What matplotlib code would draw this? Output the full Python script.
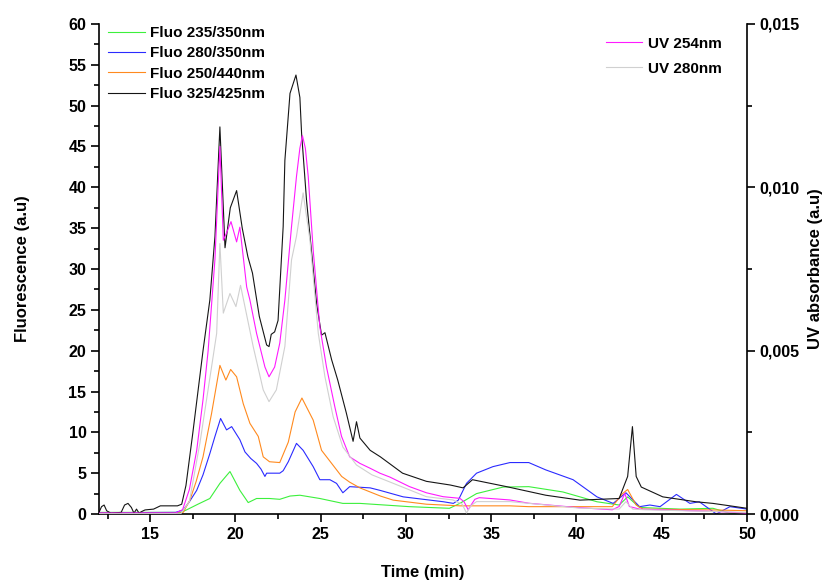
# coding: utf-8
# fluorescence + UV chromatogram, two y axes

import matplotlib
matplotlib.use("Agg")
import matplotlib.pyplot as plt
from matplotlib.ticker import MultipleLocator, FuncFormatter

plt.rcParams['font.family'] = ['Liberation Sans', 'DejaVu Sans']
plt.rcParams['font.weight'] = 'bold'

# Fluo 235/350nm
t_green = [12.0, 16.8, 17.13, 17.8, 18.5, 19.09, 19.68, 20.26, 20.75, 21.24, 22.0, 22.6, 23.2,
           23.78, 24.95, 26.3, 27.3, 30.2, 32.55, 33.16, 34.14, 35.7, 37.2, 39.2, 41.2, 42.5,
           43.0, 43.7, 46.1, 48.0, 49.0, 50.0]
f_green = [0.2, 0.2, 0.5, 1.2, 1.9, 3.75, 5.2, 2.9, 1.4, 1.9, 1.9, 1.8, 2.2,
           2.3, 1.9, 1.3, 1.3, 0.9, 0.7, 1.3, 2.5, 3.3, 3.35, 2.7, 1.5, 1.1,
           2.1, 0.8, 0.6, 0.7, 0.1, 0.1]

# Fluo 280/350nm
t_blue = [12.0, 16.5, 16.94, 17.3, 17.73, 18.1, 18.5, 18.8, 19.13, 19.48, 19.78, 20.26, 20.56,
          20.9, 21.24, 21.5, 21.73, 21.83, 22.2, 22.6, 22.8, 23.1, 23.58, 23.97, 24.56, 24.95,
          25.54, 25.93, 26.3, 26.7, 27.9, 28.47, 29.84, 32.2, 32.78, 33.07, 33.55, 34.14, 35.1,
          36.1, 37.2, 38.2, 39.8, 41.2, 42.15, 42.9, 43.7, 44.3, 44.9, 45.86, 46.65, 47.2,
          48.2, 49.0, 50.0]
f_blue = [0.15, 0.2, 0.5, 1.5, 2.9, 4.8, 7.4, 9.5, 11.7, 10.3, 10.7, 9.1, 7.6,
          6.8, 6.2, 5.5, 4.6, 5.0, 5.0, 5.0, 5.3, 6.4, 8.65, 7.8, 5.8, 4.2,
          4.2, 3.75, 2.6, 3.35, 3.2, 2.9, 2.1, 1.5, 1.3, 1.7, 3.75, 5.0, 5.8,
          6.3, 6.3, 5.4, 4.2, 2.1, 1.3, 2.6, 0.9, 1.1, 0.9, 2.4, 1.3, 1.5,
          0.0, 0.9, 0.6]

# Fluo 250/440nm
t_orange = [12.0, 16.7, 16.94, 17.33, 17.7, 18.1, 18.6, 19.09, 19.44, 19.72, 20.07, 20.46, 20.85,
            21.34, 21.63, 22.0, 22.6, 23.1, 23.5, 23.9, 24.56, 25.05, 25.64, 26.23, 26.7, 27.3,
            28.5, 29.25, 31.2, 33.16, 36.1, 37.2, 42.1, 42.7, 43.0, 43.5, 43.9, 48.0, 50.0]
f_orange = [0.1, 0.1, 0.2, 1.7, 4.0, 7.0, 12.3, 18.2, 16.4, 17.7, 16.8, 13.5, 11.1,
            9.5, 7.0, 6.4, 6.3, 8.8, 12.5, 14.2, 11.5, 7.8, 6.2, 4.6, 3.9, 3.2,
            2.2, 1.7, 1.2, 1.0, 1.0, 0.9, 0.9, 2.5, 3.0, 1.1, 0.6, 0.5, 0.4]

# Fluo 325/425nm
t_black = [12.0, 12.15, 12.3, 12.45, 12.7, 13.3, 13.5, 13.7, 13.9, 14.05, 14.2, 14.35, 14.5,
           14.7, 15.2, 15.6, 16.6, 16.85, 17.1, 17.5, 18.1, 18.5, 18.8, 19.09, 19.39, 19.7,
           20.07, 20.4, 20.73, 21.0, 21.4, 21.83, 21.97, 22.1, 22.3, 22.5, 22.8, 22.9, 23.2,
           23.55, 23.78, 23.88, 24.17, 24.47, 24.76, 25.05, 25.25, 25.64, 26.0, 26.5, 26.9, 27.1,
           27.3, 27.9, 28.5, 29.8, 31.2, 32.6, 33.35, 33.9, 35.9, 38.2, 40.2, 42.5, 43.0,
           43.28, 43.5, 43.8, 45.06, 47.0, 48.0, 50.0]
f_black = [0.2, 0.9, 1.1, 0.4, 0.1, 0.2, 1.1, 1.3, 0.8, 0.1, 0.6, 0.1, 0.3,
           0.5, 0.6, 1.0, 1.0, 1.2, 3.5, 9.9, 20.0, 26.2, 34.0, 47.4, 32.6, 37.5,
           39.6, 35.0, 31.5, 29.5, 24.2, 20.7, 20.5, 22.0, 22.3, 23.7, 35.2, 43.3, 51.5,
           53.75, 51.0, 46.6, 38.4, 32.0, 25.8, 21.9, 22.2, 18.9, 16.4, 12.4, 8.9, 11.3,
           9.3, 7.8, 7.0, 5.0, 4.0, 3.55, 3.2, 4.2, 3.35, 2.3, 1.7, 1.9, 4.6,
           10.7, 4.6, 3.3, 2.1, 1.5, 1.3, 0.7]

# UV 254nm (absorbance)
t_uv254 = [12.0, 15.0, 16.5, 16.9, 17.3, 17.73, 18.1, 18.4, 18.8, 19.09, 19.29, 19.5, 19.74,
           20.07, 20.26, 20.66, 20.85, 21.24, 21.73, 21.97, 22.3, 22.6, 22.9, 23.29, 23.58,
           23.78, 23.93, 24.1, 24.27, 24.56, 24.95, 25.34, 25.83, 26.22, 26.7, 27.3, 27.9, 28.47,
           29.06, 30.2, 31.2, 32.18, 33.16, 33.4, 33.65, 33.85, 34.04, 34.3, 36.1, 37.2, 40.0,
           42.1, 42.5, 42.83, 43.1, 43.7, 48.0, 50.0]
a_uv254 = [0.00003, 0.00003, 0.00003, 0.00013, 0.00075, 0.00195, 0.0035, 0.005, 0.0078, 0.01125,
           0.00838, 0.00863, 0.00895, 0.00833, 0.00878, 0.00695, 0.00655, 0.00553, 0.0045,
           0.0042, 0.0045, 0.00523, 0.00655, 0.0088, 0.01033, 0.0112, 0.01158, 0.0112, 0.01033,
           0.00808, 0.00573, 0.0045, 0.00328, 0.00238, 0.00175, 0.00155, 0.0014, 0.00125,
           0.00113, 0.00084, 0.00065, 0.00053, 0.00048, 0.00038, 0.00013, 0.0003, 0.00045,
           0.0005, 0.00043, 0.00033, 0.0002, 0.00013, 0.00023, 0.00063, 0.00023, 0.00015,
           0.00008, 0.00003]

# UV 280nm (absorbance)
t_uv280 = [12.0, 16.8, 17.3, 17.92, 18.6, 18.9, 19.09, 19.29, 19.68, 20.03, 20.3, 21.04, 21.63,
           21.97, 22.4, 22.9, 23.29, 23.58, 23.97, 24.37, 24.86, 25.25, 25.73, 26.3, 27.1,
           28.0, 29.25, 31.2, 32.75, 33.3, 33.55, 33.8, 34.14, 36.1, 40.2, 42.5, 42.9, 43.3,
           44.0, 50.0]
a_uv280 = [0.00001, 0.00001, 0.00038, 0.00218, 0.0045, 0.00553, 0.00828, 0.00615, 0.00675,
           0.00635, 0.007, 0.00513, 0.0038, 0.00344, 0.0038, 0.00513, 0.00778, 0.0085,
           0.00983, 0.00838, 0.00553, 0.0042, 0.00298, 0.00205, 0.0015, 0.0012, 0.00094,
           0.00053, 0.00043, 0.0003, 0.00003, 0.00025, 0.00038, 0.00038, 0.00018, 0.00015,
           0.00038, 0.00015, 0.00013, 0.00005]

fig = plt.figure(figsize=(8.27, 5.81), dpi=100)
ax = fig.add_axes([0.1197, 0.1153, 0.7836, 0.8434])
ax2 = ax.twinx()

lw = 0.8
l1, = ax.plot(t_green, f_green, color='#3cf03c', lw=lw, label='Fluo 235/350nm')
l2, = ax.plot(t_blue, f_blue, color='#2b2bff', lw=lw, label='Fluo 280/350nm')
l3, = ax.plot(t_orange, f_orange, color='#ff8a1e', lw=lw, label='Fluo 250/440nm')
l4, = ax.plot(t_black, f_black, color='#151515', lw=lw, label='Fluo 325/425nm')
u1, = ax2.plot(t_uv254, a_uv254, color='#ff1aff', lw=lw, label='UV 254nm')
u2, = ax2.plot(t_uv280, a_uv280, color='#d0d0d0', lw=lw, label='UV 280nm')

ax.set_xlim(12, 50)
ax.set_ylim(0, 60)
ax2.set_ylim(0, 0.015)

ax.xaxis.set_major_locator(MultipleLocator(5))
ax.xaxis.set_minor_locator(MultipleLocator(2.5))
ax.yaxis.set_major_locator(MultipleLocator(5))
ax.yaxis.set_minor_locator(MultipleLocator(2.5))
ax2.yaxis.set_major_locator(MultipleLocator(0.005))
ax2.yaxis.set_minor_locator(MultipleLocator(0.0025))
ax2.yaxis.set_major_formatter(FuncFormatter(lambda v, p: ('%.3f' % v).replace('.', ',')))

for a in (ax, ax2):
    a.spines['top'].set_visible(False)
    for s in a.spines.values():
        s.set_linewidth(1.2)
    a.tick_params(which='major', direction='out', length=6, width=1.2, labelsize=11.5, pad=3)
    a.tick_params(which='minor', direction='out', length=3.5, width=1.2)
ax.spines['right'].set_visible(False)
ax2.spines['left'].set_visible(False)
ax2.spines['bottom'].set_visible(False)

ax.set_xlabel('Time (min)', fontsize=12, fontweight='bold')
ax.set_ylabel('Fluorescence (a.u)', fontsize=12, fontweight='bold')
ax2.set_ylabel('UV absorbance (a.u)', fontsize=12, fontweight='bold')
ax.xaxis.set_label_coords(0.5, -0.104)
ax.yaxis.set_label_coords(-0.106, 0.5)
ax2.yaxis.set_label_coords(1.094, 0.5)

ax.legend(handles=[l1, l2, l3, l4], loc='upper left', bbox_to_anchor=(0.014, 0.996),
          frameon=False, fontsize=11, handlelength=2.4, handletextpad=0.35,
          labelspacing=0.42, borderpad=0, borderaxespad=0)
ax2.legend(handles=[u1, u2], loc='upper left', bbox_to_anchor=(0.782, 0.974),
           frameon=False, fontsize=11, handlelength=2.4, handletextpad=0.35,
           labelspacing=0.71, borderpad=0, borderaxespad=0)

fig.savefig('out.png', dpi=100)
